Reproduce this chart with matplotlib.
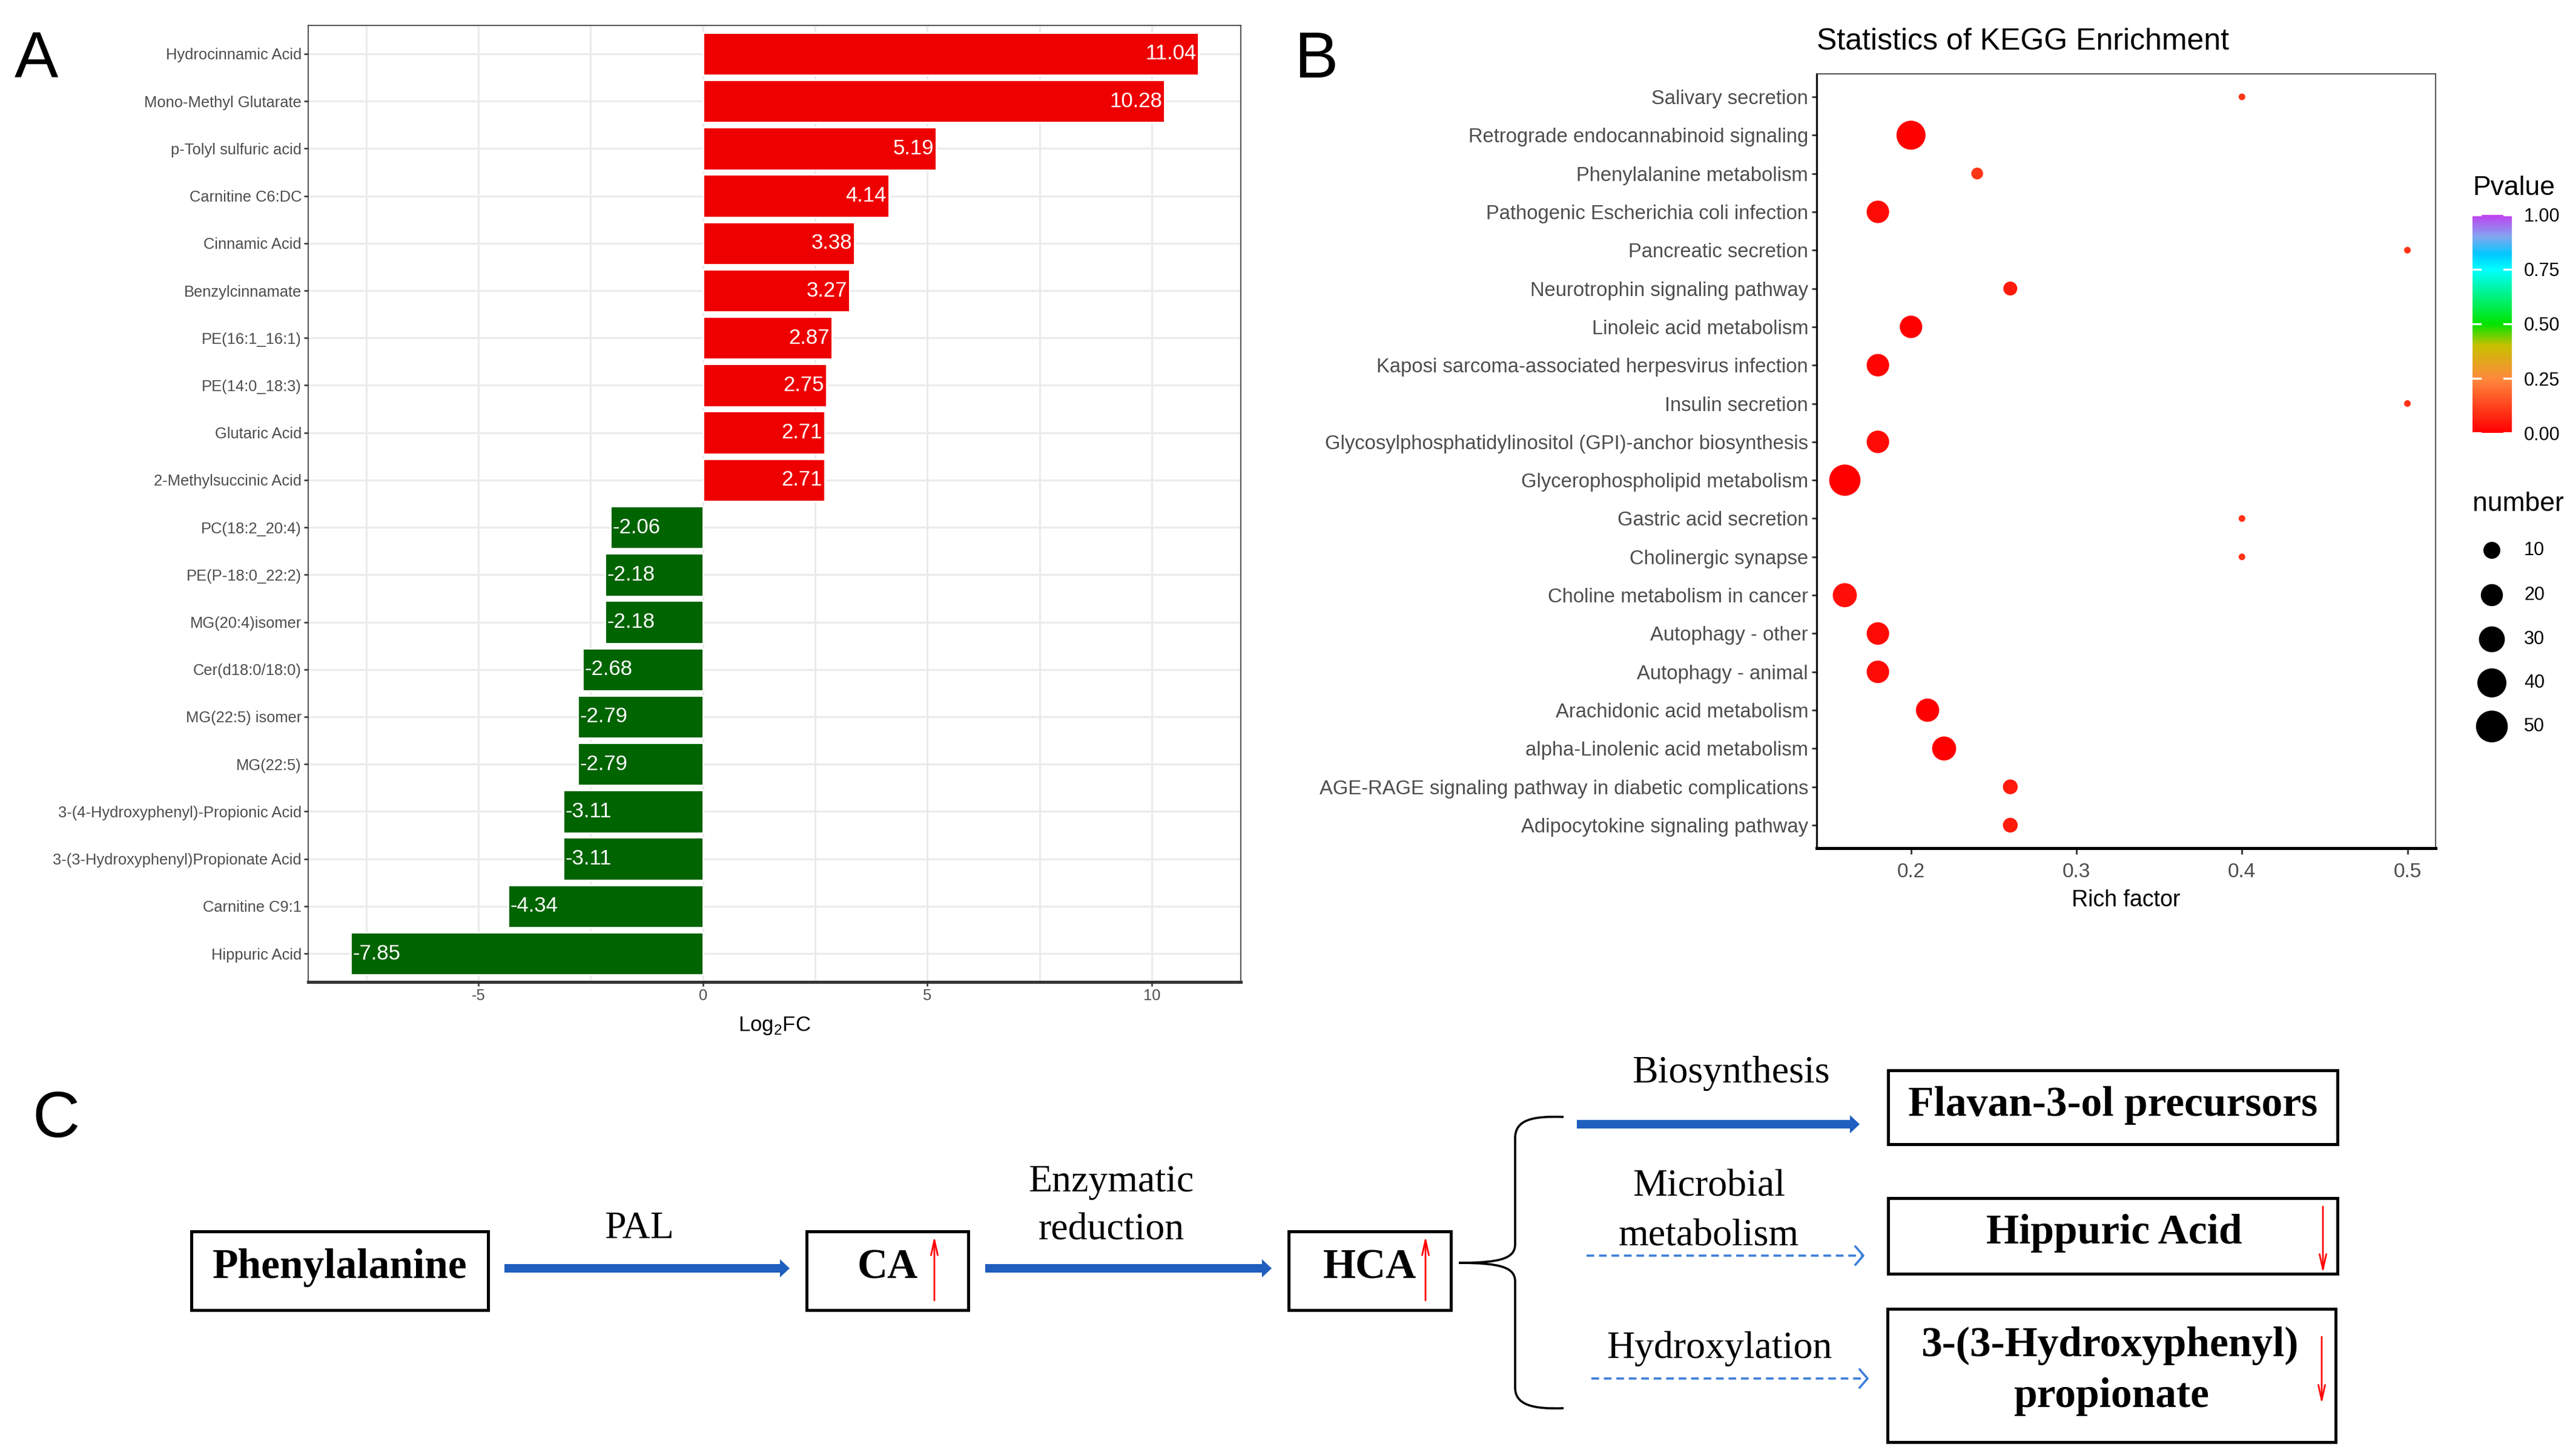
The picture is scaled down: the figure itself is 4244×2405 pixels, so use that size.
import numpy as np
import matplotlib.pyplot as plt
from matplotlib.colors import LinearSegmentedColormap
from matplotlib.patches import Rectangle, FancyArrow, PathPatch
from matplotlib.path import Path

W, H = 4244, 2405
DPI = 200
plt.rcParams['font.family'] = ['Liberation Sans Narrow', 'Liberation Sans', 'DejaVu Sans']

# ---- panel A data
metabolites = ['Hydrocinnamic Acid', 'Mono-Methyl Glutarate', 'p-Tolyl sulfuric acid',
               'Carnitine C6:DC', 'Cinnamic Acid', 'Benzylcinnamate', 'PE(16:1_16:1)',
               'PE(14:0_18:3)', 'Glutaric Acid', '2-Methylsuccinic Acid', 'PC(18:2_20:4)',
               'PE(P-18:0_22:2)', 'MG(20:4)isomer', 'Cer(d18:0/18:0)', 'MG(22:5) isomer',
               'MG(22:5)', '3-(4-Hydroxyphenyl)-Propionic Acid',
               '3-(3-Hydroxyphenyl)Propionate Acid', 'Carnitine C9:1', 'Hippuric Acid']
log2fc = [11.04, 10.28, 5.19, 4.14, 3.38, 3.27, 2.87, 2.75, 2.71, 2.71,
          -2.06, -2.18, -2.18, -2.68, -2.79, -2.79, -3.11, -3.11, -4.34, -7.85]

# ---- panel B data
pathways = ['Salivary secretion', 'Retrograde endocannabinoid signaling',
            'Phenylalanine metabolism', 'Pathogenic Escherichia coli infection',
            'Pancreatic secretion', 'Neurotrophin signaling pathway',
            'Linoleic acid metabolism', 'Kaposi sarcoma-associated herpesvirus infection',
            'Insulin secretion', 'Glycosylphosphatidylinositol (GPI)-anchor biosynthesis',
            'Glycerophospholipid metabolism', 'Gastric acid secretion', 'Cholinergic synapse',
            'Choline metabolism in cancer', 'Autophagy - other', 'Autophagy - animal',
            'Arachidonic acid metabolism', 'alpha-Linolenic acid metabolism',
            'AGE-RAGE signaling pathway in diabetic complications',
            'Adipocytokine signaling pathway']
rich_factor = [0.40, 0.20, 0.24, 0.18, 0.50, 0.26, 0.20, 0.18, 0.50, 0.18,
               0.16, 0.40, 0.40, 0.16, 0.18, 0.18, 0.21, 0.22, 0.26, 0.26]
pvalue = [0.09, 0.001, 0.10, 0.02, 0.09, 0.05, 0.001, 0.01, 0.09, 0.02,
          0.0001, 0.09, 0.09, 0.03, 0.02, 0.02, 0.002, 0.001, 0.05, 0.05]
number = [2, 40, 4, 21, 2, 6, 21, 21, 2, 21, 48, 2, 2, 25, 21, 21, 23, 25, 7, 7]
size_breaks = [10, 20, 30, 40, 50]
pvalue_ticks = [0, 0.25, 0.5, 0.75, 1.0]


def size_of(n):
    # dot diameter in px -> scatter area in pt^2
    d_px = 11 + 6 * np.sqrt(np.maximum(np.asarray(n, float) - 2, 0))
    return (d_px * 72 / DPI) ** 2


def fbox(x0, y0, x1, y1):
    return [x0 / W, 1 - y1 / H, (x1 - x0) / W, (y1 - y0) / H]


fig = plt.figure(figsize=(W / DPI, H / DPI), dpi=DPI)
ov = fig.add_axes([0, 0, 1, 1], zorder=0)
ov.set_xlim(0, W)
ov.set_ylim(H, 0)
ov.axis('off')

# ================= A
axA = fig.add_axes(fbox(509, 42, 2049, 1622), zorder=1)
yA = np.arange(len(metabolites))
colA = ['#EE0000' if v > 0 else '#006400' for v in log2fc]
axA.barh(yA, log2fc, height=0.9, color=colA, edgecolor='white', linewidth=1.0, zorder=2)
for v, yy in zip(log2fc, yA):
    if v > 0:
        axA.text(v - 0.05, yy, f'{v:.2f}', ha='right', va='center', color='white', fontsize=12.5, zorder=3)
    else:
        axA.text(v + 0.05, yy, f'{v:.2f}', ha='left', va='center', color='white', fontsize=12.5, zorder=3)
axA.set_xlim(-8.79, 11.98)
axA.set_ylim(len(metabolites) - 0.4, -0.6)
axA.set_yticks(yA, metabolites)
axA.set_xticks([-5, 0, 5, 10], ['-5', '0', '5', '10'])
axA.set_xticks([-7.5, -2.5, 2.5, 7.5], minor=True)
axA.grid(True, which='both', axis='x', color='#EBEBEB', lw=1.1)
axA.grid(True, which='major', axis='y', color='#EBEBEB', lw=1.1)
axA.set_axisbelow(True)
axA.tick_params(which='major', length=2.5, width=0.9, color='#333333', labelcolor='#4D4D4D',
                labelsize=9.2, pad=1.5)
axA.tick_params(which='minor', length=0)
for s in ['top', 'right', 'left']:
    axA.spines[s].set_linewidth(0.6)
    axA.spines[s].set_color('#333333')
axA.spines['bottom'].set_linewidth(1.8)
axA.spines['bottom'].set_color('#333333')
ov.text(1279, 1694, r'Log$_\mathregular{2}$FC', ha='center', va='center', fontsize=12.5)

# ================= B
axB = fig.add_axes(fbox(3000, 122, 4022, 1401), zorder=1)
cmap = LinearSegmentedColormap.from_list('pv', [
    (0, '#FF0000'), (0.25, '#FF8A3C'), (0.4, '#C8C000'), (0.5, '#00E400'),
    (0.75, '#00FFFF'), (0.82, '#00C8FF'), (0.9, '#80A8F0'), (1, '#C040F0')])
yB = np.arange(len(pathways))
sc = axB.scatter(rich_factor, yB, s=size_of(number), c=pvalue, cmap=cmap, vmin=0, vmax=1,
                 linewidths=0, zorder=3)
axB.set_xlim(0.143, 0.517)
axB.set_ylim(len(pathways) - 0.4, -0.6)
axB.set_yticks(yB, pathways)
axB.set_xticks([0.2, 0.3, 0.4, 0.5], ['0.2', '0.3', '0.4', '0.5'])
axB.tick_params(axis='y', length=3, width=1.0, color='#333333', labelcolor='#4D4D4D',
                labelsize=11.8, pad=2)
axB.tick_params(axis='x', length=3.5, width=1.0, color='#333333', labelcolor='#4D4D4D',
                labelsize=12, pad=5)
for s in ['top', 'right']:
    axB.spines[s].set_linewidth(0.6)
    axB.spines[s].set_color('#333333')
axB.spines['left'].set_linewidth(1.1)
axB.spines['bottom'].set_linewidth(1.8)
ov.text(3000, 69, 'Statistics of KEGG Enrichment', ha='left', va='center', fontsize=18)
ov.text(3511, 1487, 'Rich factor', ha='center', va='center', fontsize=13.5)

# colour legend
cax = fig.add_axes(fbox(4083, 355, 4148, 715), zorder=1)
cb = fig.colorbar(sc, cax=cax)
cb.set_ticks(pvalue_ticks)
cb.set_ticklabels([f'{t:.2f}' for t in pvalue_ticks])
cb.outline.set_visible(False)
cax.tick_params(length=0, labelsize=11, pad=7)
for t in pvalue_ticks:
    cax.axhline(t, xmin=0, xmax=0.2, color='white', lw=1.2)
    cax.axhline(t, xmin=0.8, xmax=1, color='white', lw=1.2)
ov.text(4083, 310, 'Pvalue', ha='left', va='center', fontsize=16)

# size legend
ov.text(4083, 832, 'number', ha='left', va='center', fontsize=16)
leg_y = [909, 983, 1056, 1128, 1200]
ov.scatter([4115] * len(size_breaks), leg_y, s=size_of(size_breaks), color='black', linewidths=0)
for n, yy in zip(size_breaks, leg_y):
    ov.text(4168, yy, str(n), ha='left', va='center', fontsize=11)

# panel letters
for lab, x, y in [('A', 60, 100), ('B', 2173, 100), ('C', 93, 1850)]:
    ov.text(x, y, lab, ha='center', va='center', fontsize=39, family='Liberation Sans')

# ================= C : pathway diagram
serif = 'Liberation Serif'
blue = '#1F5FBF'
dblue = '#3C7DD9'


def box(x0, y0, x1, y1):
    ov.add_patch(Rectangle((x0, y0), x1 - x0, y1 - y0, fill=False, ec='black', lw=1.8))


def solid_arrow(x0, x1, y):
    ov.add_patch(FancyArrow(x0, y, x1 - x0, 0, width=14, head_width=30, head_length=16,
                            length_includes_head=True, color=blue, lw=0))


def dashed_arrow(x0, x1, y):
    ov.plot([x0, x1 - 3], [y, y], color=dblue, lw=1.3, ls=(0, (3.5, 2.2)))
    ov.plot([x1 - 13, x1, x1 - 13], [y - 15, y, y + 15], color=dblue, lw=1.3)


def red_arrow(x, y_from, y_to):
    ov.annotate('', xy=(x, y_to), xytext=(x, y_from),
                arrowprops=dict(arrowstyle='->,head_length=0.9,head_width=0.2', color='red',
                                lw=1.0, shrinkA=0, shrinkB=0))


bold = dict(family=serif, weight='bold', fontsize=25, ha='center', va='center')
reg = dict(family=serif, fontsize=23, ha='center', va='center')

box(316, 2034, 806, 2164)
ov.text(561, 2094, 'Phenylalanine', **bold)
solid_arrow(833, 1304, 2095)
ov.text(1055, 2030, 'PAL', **reg)

box(1332, 2034, 1599, 2164)
ov.text(1466, 2094, 'CA', **bold)
red_arrow(1543, 2148, 2042)
solid_arrow(1627, 2100, 2095)
ov.text(1835, 1953, 'Enzymatic', **reg)
ov.text(1835, 2033, 'reduction', **reg)

box(2128, 2034, 2396, 2164)
ov.text(2262, 2094, 'HCA', **bold)
red_arrow(2354, 2148, 2042)

# brace
verts = [(2582, 1845), (2530, 1843), (2502, 1850), (2502, 1880), (2502, 2055),
         (2502, 2078), (2480, 2086), (2409, 2086),
         (2480, 2086), (2502, 2094), (2502, 2117), (2502, 2292),
         (2502, 2320), (2530, 2328), (2582, 2326)]
codes = [Path.MOVETO, Path.CURVE4, Path.CURVE4, Path.CURVE4, Path.LINETO,
         Path.CURVE4, Path.CURVE4, Path.CURVE4,
         Path.CURVE4, Path.CURVE4, Path.CURVE4, Path.LINETO,
         Path.CURVE4, Path.CURVE4, Path.CURVE4]
ov.add_patch(PathPatch(Path(verts, codes), fill=False, ec='black', lw=1.3))

ov.text(2858, 1773, 'Biosynthesis', **reg)
solid_arrow(2604, 3071, 1857)
box(3118, 1768, 3860, 1890)
ov.text(3489, 1826, 'Flavan-3-ol precursors', **bold)

ov.text(2822, 1961, 'Microbial', **reg)
ov.text(2822, 2042, 'metabolism', **reg)
dashed_arrow(2620, 3077, 2074)
box(3118, 1979, 3860, 2104)
ov.text(3491, 2037, 'Hippuric Acid', **bold)
red_arrow(3836, 1993, 2103)

ov.text(2839, 2228, 'Hydroxylation', **reg)
dashed_arrow(2628, 3084, 2277)
box(3117, 2162, 3857, 2382)
ov.text(3484, 2223, '3-(3-Hydroxyphenyl)', **bold)
ov.text(3487, 2307, 'propionate', **bold)
red_arrow(3834, 2208, 2319)

fig.savefig('out.png', dpi=DPI, facecolor='white')
